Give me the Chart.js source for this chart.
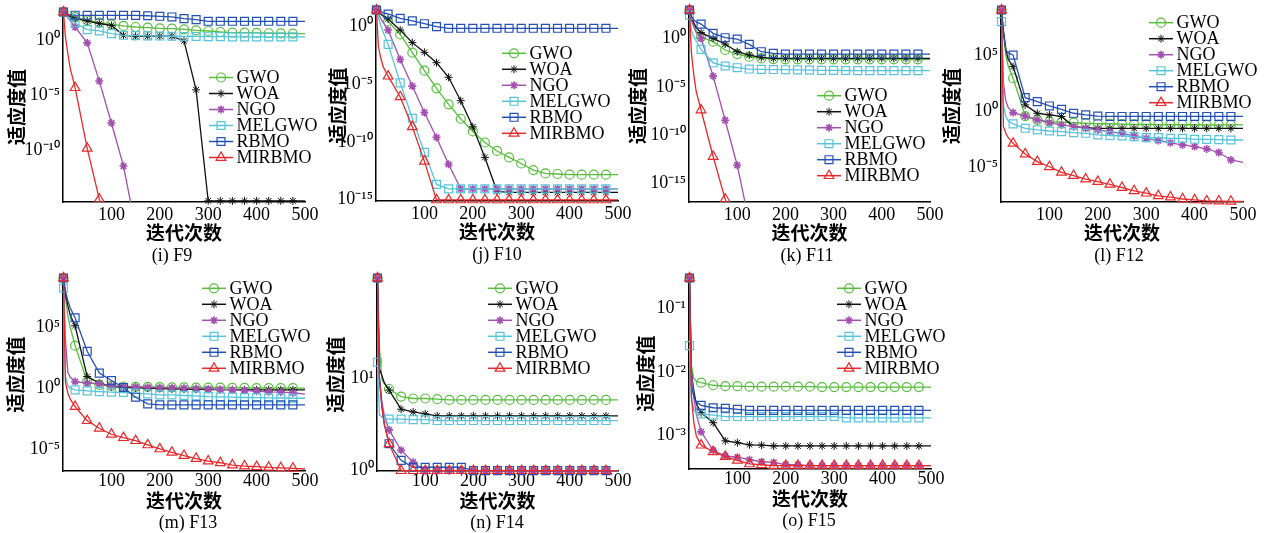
<!DOCTYPE html>
<html lang="zh">
<head>
<meta charset="utf-8">
<title>收敛曲线 F9–F15</title>
<script src="https://cdn.jsdelivr.net/npm/chart.js@4.4.1/dist/chart.umd.min.js"></script>
<style>
  html, body { margin: 0; padding: 0; background: #fff; overflow: hidden; }
  body { width: 1272px; height: 533px; position: relative; }
  canvas { position: absolute; }
</style>
</head>
<body>
<script>
// iterations where the curves are sampled (markers every 25 iterations)
const iters = [1, 5, 10, 15, 25, 50, 75, 100, 125, 150, 175, 200, 225, 250, 275, 300, 325, 350, 375, 400, 425, 450, 475, 500];
const xTicks = [100, 200, 300, 400, 500];
const algorithms = ['GWO', 'WOA', 'NGO', 'MELGWO', 'RBMO', 'MIRBMO'];

// y tick values and axis ranges per function
const f9Ticks = [1e-10, 1e-5, 1];
const f10Ticks = [1e-15, 1e-10, 1e-5, 1];
const f11Ticks = [1e-15, 1e-10, 1e-5, 1];
const f12Ticks = [1e-5, 1, 1e5];
const f13Ticks = [1e-5, 1, 1e5];
const f14Ticks = [1, 10];
const f15Ticks = [1e-3, 1e-2, 1e-1];

const f9Range = [2.2e-15, 363];
const f10Range = [7.2e-16, 28];
const f11Range = [1.26e-17, 851];
const f12Range = [7.0e-9, 1.1e9];
const f13Range = [1.5e-7, 1.2e9];
const f14Range = [0.99, 120];
const f15Range = [3.2e-4, 0.30];

// best fitness per iteration, rows in the order of `algorithms`
const f9 = [
  [363, 282, 224, 191, 126, 63, 40, 28, 20, 15.8, 13.8, 12, 11.2, 9.8, 7.9, 6.9, 5.6, 4.9, 4.9, 4.6, 4.3, 4.2, 4.0, 4.0],
  [363, 251, 178, 141, 91, 56, 32, 22, 2.8, 2.3, 2.3, 2.3, 2.3, 0.87, 3.2e-5, 2.8e-15, 2.8e-15, 2.8e-15, 2.8e-15, 2.8e-15, 2.8e-15, 2.8e-15, 2.8e-15, 2.8e-15],
  [363, 214, 112, 60, 15.5, 0.58, 2.0e-4, 3.2e-8, 4.0e-12, 1e-17, null, null, null, null, null, null, null, null, null, null, null, null, null, null],
  [363, 224, 126, 89, 37, 9.1, 7.1, 4.0, 2.8, 2.6, 2.5, 2.4, 2.3, 2.2, 2.2, 2.1, 2.1, 2.0, 2.0, 2.0, 2.0, 2.0, 2.0, 2.0],
  [363, 282, 224, 200, 186, 182, 182, 182, 182, 178, 166, 148, 129, 91, 74, 52, 52, 52, 52, 52, 52, 52, 52, 52],
  [363, 2.0, 0.063, 2.8e-3, 5.0e-5, 1.6e-10, 4.0e-15, 1e-17, null, null, null, null, null, null, null, null, null, null, null, null, null, null, null, null]
];
const f10 = [
  [28, 20, 11.2, 7.1, 2.8, 0.21, 5.5e-3, 1.5e-4, 4.4e-6, 1.8e-7, 1.0e-8, 7.9e-10, 8.7e-11, 1.6e-11, 4.4e-12, 1.3e-12, 3.5e-13, 1.8e-13, 1.6e-13, 1.4e-13, 1.4e-13, 1.4e-13, 1.4e-13, 1.4e-13],
  [28, 20, 12.6, 8.9, 4.7, 0.51, 0.041, 5.9e-3, 7.4e-4, 4.0e-5, 3.7e-7, 2.0e-9, 4.4e-12, 5.0e-15, 4.0e-15, 4.0e-15, 4.0e-15, 4.0e-15, 4.0e-15, 4.0e-15, 4.0e-15, 4.0e-15, 4.0e-15, 4.0e-15],
  [28, 12.6, 5.0, 2.2, 0.51, 1.4e-3, 6.9e-6, 3.5e-8, 2.4e-10, 1.1e-12, 8.1e-15, 8.1e-15, 8.1e-15, 8.1e-15, 8.1e-15, 8.1e-15, 8.1e-15, 8.1e-15, 8.1e-15, 8.1e-15, 8.1e-15, 8.1e-15, 8.1e-15, 8.1e-15],
  [28, 6.3, 1.26, 0.32, 0.029, 1.3e-5, 1.1e-8, 1.2e-11, 2.0e-14, 8.1e-15, 8.1e-15, 8.1e-15, 8.1e-15, 8.1e-15, 8.1e-15, 8.1e-15, 8.1e-15, 8.1e-15, 8.1e-15, 8.1e-15, 8.1e-15, 8.1e-15, 8.1e-15, 8.1e-15],
  [28, 25, 20, 15.8, 12.6, 5.2, 3.2, 1.8, 1.0, 0.72, 0.72, 0.72, 0.72, 0.72, 0.72, 0.72, 0.72, 0.72, 0.72, 0.72, 0.72, 0.72, 0.72, 0.72],
  [28, 0.018, 1.8e-3, 3.2e-4, 5.0e-5, 7.9e-7, 2.0e-9, 2.0e-12, 8.9e-16, 8.9e-16, 8.9e-16, 8.9e-16, 8.9e-16, 8.9e-16, 8.9e-16, 8.9e-16, 8.9e-16, 8.9e-16, 8.9e-16, 8.9e-16, 8.9e-16, 8.9e-16, 8.9e-16, 8.9e-16]
];
const f11 = [
  [851, 100, 20, 6.3, 1.4, 0.46, 0.063, 0.024, 0.0126, 8.5e-3, 7.2e-3, 6.8e-3, 6.8e-3, 6.8e-3, 6.8e-3, 6.8e-3, 6.8e-3, 6.8e-3, 6.8e-3, 6.8e-3, 6.8e-3, 6.8e-3, 6.8e-3, 6.8e-3],
  [851, 158, 40, 12.6, 3.9, 1.0, 0.26, 0.042, 0.019, 0.0107, 8.5e-3, 8.5e-3, 8.5e-3, 8.5e-3, 8.5e-3, 8.5e-3, 8.5e-3, 8.5e-3, 8.5e-3, 8.5e-3, 8.5e-3, 8.5e-3, 8.5e-3, 8.5e-3],
  [851, 79, 15.8, 4.0, 1.0, 1.26e-4, 3.5e-9, 7.9e-14, 1e-19, null, null, null, null, null, null, null, null, null, null, null, null, null, null, null],
  [251, 6.3, 1.6, 0.5, 0.072, 3.0e-3, 1.4e-3, 9.3e-4, 6.8e-4, 6.3e-4, 6.0e-4, 5.8e-4, 5.5e-4, 5.2e-4, 5.0e-4, 4.9e-4, 4.8e-4, 4.7e-4, 4.6e-4, 4.6e-4, 4.6e-4, 4.6e-4, 4.6e-4, 4.6e-4],
  [851, 200, 79, 50, 30, 3.3, 1.17, 0.85, 0.24, 0.042, 0.028, 0.024, 0.024, 0.024, 0.024, 0.024, 0.024, 0.024, 0.024, 0.024, 0.024, 0.024, 0.024, 0.024],
  [851, 0.032, 1.6e-4, 3.2e-6, 4.0e-8, 6.3e-13, 2.5e-17, 1e-20, null, null, null, null, null, null, null, null, null, null, null, null, null, null, null, null]
];
const f12 = [
  [1.1e9, 1e7, 1e5, 1e4, 851, 0.35, 0.16, 0.11, 0.1, 0.089, 0.079, 0.071, 0.071, 0.066, 0.063, 0.063, 0.06, 0.06, 0.058, 0.058, 0.056, 0.056, 0.056, 0.056],
  [1.1e9, 1.6e7, 3.2e5, 4.0e4, 9.3e3, 3.5, 0.62, 0.44, 0.32, 0.04, 0.032, 0.028, 0.028, 0.028, 0.028, 0.028, 0.028, 0.028, 0.028, 0.028, 0.028, 0.028, 0.028, 0.028],
  [1.1e9, 316, 7.9, 2.0, 0.71, 0.35, 0.16, 0.091, 0.056, 0.04, 0.028, 0.02, 0.014, 0.01, 5.8e-3, 3.5e-3, 2.2e-3, 1.4e-3, 9.1e-4, 6.5e-4, 4.0e-4, 1.9e-4, 4.1e-5, 2.5e-5],
  [1e8, 3.2, 0.32, 0.126, 0.069, 0.028, 0.02, 0.016, 0.014, 0.0115, 0.01, 7.1e-3, 6.3e-3, 5.8e-3, 5.0e-3, 4.1e-3, 4.1e-3, 3.5e-3, 3.5e-3, 2.9e-3, 2.8e-3, 2.7e-3, 2.5e-3, 2.5e-3],
  [1.1e9, 1e7, 2.9e5, 1.6e5, 1e5, 15.5, 6.9, 2.8, 1.4, 0.62, 0.44, 0.35, 0.32, 0.32, 0.32, 0.32, 0.32, 0.32, 0.32, 0.32, 0.32, 0.32, 0.32, 0.32],
  [1.1e9, 0.04, 0.01, 4.0e-3, 1.26e-3, 1.4e-4, 2.9e-5, 1e-5, 3.2e-6, 1.6e-6, 7.9e-7, 4.7e-7, 2.7e-7, 1.35e-7, 6.9e-8, 4.3e-8, 2.5e-8, 1.9e-8, 1.3e-8, 1.07e-8, 8.7e-9, 8.3e-9, 8.1e-9, 7.9e-9]
];
const f13 = [
  [1.2e9, 3.2e7, 1e6, 1e5, 3.2e3, 3.5, 1.9, 1.55, 1.38, 1.26, 1.26, 1.2, 1.17, 1.15, 1.12, 1.12, 1.1, 1.07, 1.05, 1.02, 1.0, 1.0, 1.0, 1.0],
  [1.2e9, 6.3e7, 6.3e6, 1e6, 1.4e5, 9.1, 2.6, 1.38, 1.15, 1.07, 1.0, 0.93, 0.89, 0.85, 0.8, 0.78, 0.76, 0.75, 0.73, 0.73, 0.73, 0.73, 0.73, 0.73],
  [1.2e9, 1e4, 20, 7.9, 3.5, 2.6, 2.3, 1.55, 1.38, 1.26, 1.17, 1.1, 1.05, 1.0, 0.93, 0.87, 0.79, 0.72, 0.66, 0.56, 0.5, 0.47, 0.42, 0.32],
  [1.8e8, 10, 1.6, 1.0, 0.72, 0.6, 0.52, 0.47, 0.44, 0.39, 0.34, 0.28, 0.28, 0.25, 0.23, 0.2, 0.19, 0.18, 0.17, 0.166, 0.16, 0.155, 0.148, 0.148],
  [1.2e9, 1e8, 1.6e7, 4.0e6, 6.3e5, 1.1e3, 17.4, 4.3, 1.15, 0.18, 0.051, 0.042, 0.042, 0.042, 0.042, 0.042, 0.042, 0.042, 0.042, 0.042, 0.042, 0.042, 0.042, 0.042],
  [1.2e9, 3.2, 0.4, 0.126, 0.03, 2.1e-3, 5.0e-4, 1.6e-4, 8.3e-5, 4.7e-5, 2.1e-5, 9.8e-6, 5.1e-6, 2.75e-6, 1.6e-6, 9.8e-7, 7.2e-7, 4.6e-7, 3.8e-7, 3.4e-7, 3.0e-7, 2.75e-7, 2.45e-7, 2.2e-7]
];
const f14 = [
  [120, 21, 9.8, 8.7, 7.6, 6.3, 6.0, 6.0, 5.9, 5.8, 5.8, 5.8, 5.8, 5.8, 5.8, 5.8, 5.8, 5.8, 5.8, 5.8, 5.8, 5.8, 5.8, 5.8],
  [120, 12.6, 10.7, 8.9, 7.4, 4.6, 4.3, 4.1, 3.9, 3.9, 3.9, 3.9, 3.9, 3.9, 3.9, 3.9, 3.9, 3.9, 3.9, 3.9, 3.9, 3.9, 3.9, 3.9],
  [120, 10, 5.6, 4.0, 2.75, 1.66, 1.23, 0.998, 0.998, 0.998, 0.998, 0.998, 0.998, 0.998, 0.998, 0.998, 0.998, 0.998, 0.998, 0.998, 0.998, 0.998, 0.998, 0.998],
  [14.8, 4.0, 3.8, 3.7, 3.6, 3.6, 3.55, 3.55, 3.47, 3.47, 3.47, 3.47, 3.47, 3.47, 3.47, 3.47, 3.47, 3.47, 3.47, 3.47, 3.47, 3.47, 3.47, 3.47],
  [120, 10, 5.0, 3.2, 1.95, 1.29, 1.087, 1.087, 1.087, 1.087, 1.087, 0.998, 0.998, 0.998, 0.998, 0.998, 0.998, 0.998, 0.998, 0.998, 0.998, 0.998, 0.998, 0.998],
  [120, 10, 5.0, 3.2, 1.95, 0.998, 0.998, 0.998, 0.998, 0.998, 0.998, 0.998, 0.998, 0.998, 0.998, 0.998, 0.998, 0.998, 0.998, 0.998, 0.998, 0.998, 0.998, 0.998]
];
const f15 = [
  [0.30, 0.0126, 7.9e-3, 7.2e-3, 6.8e-3, 6.2e-3, 6.0e-3, 6.0e-3, 5.9e-3, 5.9e-3, 5.9e-3, 5.9e-3, 5.9e-3, 5.9e-3, 5.8e-3, 5.8e-3, 5.8e-3, 5.8e-3, 5.8e-3, 5.8e-3, 5.8e-3, 5.8e-3, 5.8e-3, 5.8e-3],
  [0.30, 0.01, 5.0e-3, 3.2e-3, 2.3e-3, 1.6e-3, 8.3e-4, 7.8e-4, 7.2e-4, 7.1e-4, 6.9e-4, 6.9e-4, 6.9e-4, 6.9e-4, 6.9e-4, 6.9e-4, 6.9e-4, 6.9e-4, 6.9e-4, 6.9e-4, 6.9e-4, 6.9e-4, 6.9e-4, 6.9e-4],
  [0.30, 0.01, 4.0e-3, 2.2e-3, 1.15e-3, 5.9e-4, 4.8e-4, 4.6e-4, 4.2e-4, 3.9e-4, 3.8e-4, 3.5e-4, 3.5e-4, 3.4e-4, 3.4e-4, 3.4e-4, 3.4e-4, 3.4e-4, 3.4e-4, 3.4e-4, 3.4e-4, 3.4e-4, 3.4e-4, 3.4e-4],
  [0.026, 4.0e-3, 2.5e-3, 2.3e-3, 2.2e-3, 2.1e-3, 2.0e-3, 2.0e-3, 2.0e-3, 2.0e-3, 2.0e-3, 2.0e-3, 2.0e-3, 2.0e-3, 2.0e-3, 2.0e-3, 1.9e-3, 1.9e-3, 1.9e-3, 1.9e-3, 1.9e-3, 1.9e-3, 1.9e-3, 1.9e-3],
  [0.30, 6.3e-3, 4.0e-3, 3.4e-3, 3.0e-3, 2.75e-3, 2.7e-3, 2.6e-3, 2.5e-3, 2.5e-3, 2.5e-3, 2.5e-3, 2.5e-3, 2.5e-3, 2.5e-3, 2.5e-3, 2.5e-3, 2.5e-3, 2.5e-3, 2.5e-3, 2.5e-3, 2.5e-3, 2.5e-3, 2.5e-3],
  [0.30, 4.0e-3, 1.6e-3, 1.0e-3, 7.1e-4, 5.6e-4, 4.7e-4, 4.1e-4, 3.6e-4, 3.5e-4, 3.4e-4, 3.4e-4, 3.4e-4, 3.4e-4, 3.4e-4, 3.4e-4, 3.4e-4, 3.4e-4, 3.4e-4, 3.4e-4, 3.4e-4, 3.4e-4, 3.4e-4, 3.4e-4]
];

// series styles
const lineColors = ['#55bf3b', '#111111', '#a34fb0', '#55c4dd', '#2250b6', '#e8282a'];
const markerStyles = ['circle', 'star', 'star', 'rect', 'rect', 'triangle'];
const markerSizes = [4.5, 4, 4, 5.6, 5.6, 5.6];
const markerLines = [1.2, 1.0, 1.6, 1.2, 1.2, 1.2];
const markerFills = ['rgba(0,0,0,0)', 'rgba(0,0,0,0)', '#a34fb0', 'rgba(0,0,0,0)', 'rgba(0,0,0,0)', 'rgba(0,0,0,0)'];

// panel layout in page pixels: plot box [left, right, top, bottom]
const panels = [
  { values: f9,  ticks: f9Ticks,  range: f9Range,  caption: '(i) F9',  capX: 172,  box: [63, 305, 12, 202],    titleX: 17,  legend: [209, 77.5],  row: 0 },
  { values: f10, ticks: f10Ticks, range: f10Range, caption: '(j) F10', capX: 497,  box: [376, 618, 10, 201],   titleX: 338, legend: [502, 53.3],  row: 0 },
  { values: f11, ticks: f11Ticks, range: f11Range, caption: '(k) F11', capX: 807,  box: [689, 930, 10, 202],   titleX: 638, legend: [817, 95.7],  row: 0 },
  { values: f12, ticks: f12Ticks, range: f12Range, caption: '(l) F12', capX: 1119, box: [1001, 1243, 10, 202], titleX: 952, legend: [1149, 22.7], row: 0 },
  { values: f13, ticks: f13Ticks, range: f13Range, caption: '(m) F13', capX: 188,  box: [63, 305, 278, 471],   titleX: 16,  legend: [202, 288.3], row: 1 },
  { values: f14, ticks: f14Ticks, range: f14Range, caption: '(n) F14', capX: 497,  box: [377, 618, 278, 471],  titleX: 336, legend: [488, 288.3], row: 1 },
  { values: f15, ticks: f15Ticks, range: f15Range, caption: '(o) F15', capX: 809,  box: [689, 931, 278, 469],  titleX: 646, legend: [837, 288.3], row: 1 }
];
const rowStyle = [
  { xTitle: 31, caption: 54.5, tickPad: 4.5 },
  { xTitle: 29.5, caption: 52, tickPad: 1.5 }
];

const serif = '"Liberation Serif", "Times New Roman", serif';
const cjk = '"Noto Sans CJK SC", sans-serif';
const supDigits = { '-': '\u207B', '0': '\u2070', '1': '\u00B9', '2': '\u00B2', '3': '\u00B3', '4': '\u2074',
  '5': '\u2075', '6': '\u2076', '7': '\u2077', '8': '\u2078', '9': '\u2079' };

function powerLabel(v) {
  const e = Math.round(Math.log10(v));
  return '10' + String(e).split('').map(c => supDigits[c]).join('');
}

function isMarked(it) {
  return it === 1 || (it % 25 === 0 && it < 500);
}

function makeDatasets(values, yMin) {
  return algorithms.map((name, i) => {
    const row = values[i];
    const dropsOut = row.some(v => v === null || v < yMin);
    return {
      label: name,
      data: iters.map((it, j) => ({ x: it, y: row[j] })),
      borderColor: lineColors[i],
      backgroundColor: markerFills[i],
      borderWidth: 1.3,
      tension: 0,
      pointStyle: markerStyles[i],
      pointRadius: ctx => isMarked(iters[ctx.dataIndex]) ? markerSizes[i] : 0,
      pointHoverRadius: 0,
      pointBorderWidth: markerLines[i],
      pointBorderColor: lineColors[i],
      pointBackgroundColor: markerFills[i],
      order: algorithms.length - i,
      clip: { left: 8, top: 8, right: 8, bottom: dropsOut ? 0 : 6 }
    };
  });
}

// legend inside the plot and the panel caption underneath
const panelDecor = {
  id: 'panelDecor',
  afterDraw(chart, args, opts) {
    const ctx = chart.ctx;
    ctx.save();
    chart.data.datasets.forEach((ds, i) => {
      const y = opts.y + i * opts.gap;
      ctx.strokeStyle = ds.borderColor;
      ctx.lineWidth = 1.5;
      ctx.beginPath();
      ctx.moveTo(opts.x, y);
      ctx.lineTo(opts.x + 24, y);
      ctx.stroke();
      ctx.fillStyle = markerFills[i];
      ctx.lineWidth = markerLines[i];
      Chart.helpers.drawPoint(ctx, { pointStyle: markerStyles[i], radius: markerSizes[i], borderWidth: markerLines[i], rotation: 0 }, opts.x + 12, y);
      ctx.fillStyle = '#000';
      ctx.font = '18px ' + serif;
      ctx.textAlign = 'left';
      ctx.textBaseline = 'middle';
      ctx.fillText(ds.label, opts.x + 27.5, y + 1);
    });
    ctx.font = '18px ' + serif;
    ctx.textAlign = 'center';
    ctx.textBaseline = 'middle';
    ctx.fillStyle = '#000';
    ctx.fillText(opts.caption, opts.capX, opts.capY);
    ctx.restore();
  }
};

panels.forEach(p => {
  const [L, R, T, B] = p.box;
  const rs = rowStyle[p.row];
  const cx = p.titleX - 12;
  const cy = T - 12;
  const hx = rs.xTitle + 9.5;
  const W = Math.round(R + 30 - cx);
  const H = Math.round(B + rs.caption + 12 - cy);
  const wy = L - cx;

  const canvas = document.createElement('canvas');
  canvas.width = W;
  canvas.height = H;
  canvas.style.left = cx + 'px';
  canvas.style.top = cy + 'px';
  canvas.style.width = W + 'px';
  canvas.style.height = H + 'px';
  document.body.appendChild(canvas);

  new Chart(canvas, {
    type: 'line',
    data: { datasets: makeDatasets(p.values, p.range[0]) },
    plugins: [panelDecor],
    options: {
      responsive: false,
      animation: false,
      devicePixelRatio: 1,
      layout: { padding: { left: 0, top: 12, right: 30, bottom: H - hx - (B - cy) } },
      scales: {
        x: {
          type: 'linear',
          min: 0,
          max: 500,
          afterBuildTicks: s => { s.ticks = xTicks.map(v => ({ value: v })); },
          afterFit: s => { s.height = hx; },
          grid: { display: false, drawTicks: false },
          border: { display: true, color: '#000', width: 1.5 },
          ticks: { color: '#000', font: { family: serif, size: 18, lineHeight: 1 }, padding: rs.tickPad, maxRotation: 0, autoSkip: false },
          title: { display: true, text: '迭代次数', color: '#000', font: { family: cjk, size: 19, weight: 'bold', lineHeight: 1 }, padding: { top: 0, bottom: 0 } }
        },
        y: {
          type: 'logarithmic',
          min: p.range[0],
          max: p.range[1],
          afterBuildTicks: s => { s.ticks = p.ticks.map(v => ({ value: v })); },
          afterFit: s => { s.width = wy; },
          grid: { display: false, drawTicks: false },
          border: { display: true, color: '#000', width: 1.5 },
          ticks: { color: '#000', font: { family: serif, size: 18, lineHeight: 1 }, padding: 3, autoSkip: false, callback: v => powerLabel(v) },
          title: { display: true, text: '适应度值', color: '#000', font: { family: cjk, size: 19, weight: 'bold', lineHeight: 1 }, padding: { top: 2.5, bottom: 0 } }
        }
      },
      plugins: {
        legend: { display: false },
        tooltip: { enabled: false },
        panelDecor: {
          x: p.legend[0] - cx,
          y: p.legend[1] - cy,
          gap: 16,
          caption: p.caption,
          capX: p.capX - cx,
          capY: B + rs.caption - cy
        }
      }
    }
  });
});
</script>
</body>
</html>
